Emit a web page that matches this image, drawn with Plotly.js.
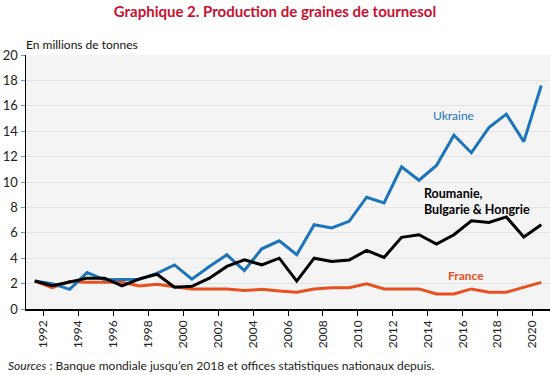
<!DOCTYPE html>
<html>
<head>
<meta charset="utf-8">
<script src="https://cdn.plot.ly/plotly-3.0.1.min.js"></script>
<style>html,body{margin:0;padding:0;background:#fff;}#chart{width:550px;height:375px;}</style>
</head>
<body>
<div id="chart"></div>
<script>
const years = [1992,1993,1994,1995,1996,1997,1998,1999,2000,2001,2002,2003,2004,2005,2006,2007,2008,2009,2010,2011,2012,2013,2014,2015,2016,2017,2018,2019,2020,2021];
const ukraine = [2.2,2.0,1.55,2.87,2.3,2.35,2.35,2.8,3.47,2.35,3.35,4.27,3.03,4.74,5.37,4.27,6.64,6.38,6.9,8.8,8.35,11.2,10.14,11.3,13.68,12.3,14.28,15.34,13.18,17.6];
const rbh = [2.2,1.84,2.13,2.43,2.43,1.82,2.37,2.74,1.71,1.79,2.43,3.35,3.87,3.48,4.0,2.2,4.0,3.74,3.85,4.61,4.06,5.64,5.85,5.11,5.85,6.95,6.82,7.25,5.67,6.64];
const france = [2.2,1.68,2.16,2.1,2.1,2.1,1.82,1.95,1.76,1.58,1.58,1.58,1.45,1.55,1.42,1.32,1.58,1.68,1.68,1.98,1.58,1.58,1.58,1.19,1.19,1.58,1.32,1.32,1.71,2.1];
const tickYears = [1992,1994,1996,1998,2000,2002,2004,2006,2008,2010,2012,2014,2016,2018,2020];
const yTicks = [0,2,4,6,8,10,12,14,16,18,20];

const font = "Lato, 'Open Sans', sans-serif";
const traces = [
  {x: years, y: france, mode: 'lines', line: {color: '#e8501e', width: 3}, name: 'France'},
  {x: years, y: ukraine, mode: 'lines', line: {color: '#1b75bb', width: 3}, name: 'Ukraine'},
  {x: years, y: rbh, mode: 'lines', line: {color: '#000000', width: 3}, name: 'RBH'}
];
const layout = {
  width: 550, height: 375,
  margin: {l: 26, r: 0, t: 55, b: 66},
  paper_bgcolor: '#ffffff',
  plot_bgcolor: '#f4f4f4',
  showlegend: false,
  font: {family: font, size: 12, color: '#222'},
  title: {text: '<b>Graphique 2. Production de graines de tournesol</b>', font: {family: font, size: 15, color: '#c8102e'}, x: 0.5, xanchor: 'center', yref: 'container', y: 0.968, yanchor: 'middle'},
  xaxis: {
    range: [1991.5, 2021.5], tickvals: tickYears.map(v => v + 0.5), ticktext: tickYears.map(String),
    tickangle: -90, ticks: 'outside', ticklen: 5, tickcolor: '#000', showgrid: false,
    showline: true, linecolor: '#000', linewidth: 1.5, zeroline: false,
    tickfont: {family: font, size: 12, color: '#222'}
  },
  yaxis: {
    range: [0, 20], tickvals: yTicks, ticks: 'outside', ticklen: 4, tickcolor: '#5b9bd5',
    showgrid: true, gridcolor: '#e4e4e4', gridwidth: 1, showline: true, linecolor: '#000', linewidth: 1.5,
    zeroline: false, tickfont: {family: font, size: 13, color: '#222'}
  },
  annotations: [
    {text: 'En millions de tonnes', xref: 'paper', yref: 'paper', x: -0.004, y: 1.043, xanchor: 'left', yanchor: 'middle', showarrow: false, font: {family: font, size: 12, color: '#111'}},
    {text: 'Ukraine', xref: 'x', yref: 'y', x: 2015.95, y: 15.25, showarrow: false, xanchor: 'center', yanchor: 'middle', font: {family: font, size: 12, color: '#1b75bb'}},
    {text: '<b>Roumanie,<br>Bulgarie &amp; Hongrie</b>', xref: 'x', yref: 'y', x: 2014.2, y: 8.46, showarrow: false, xanchor: 'left', yanchor: 'middle', align: 'left', font: {family: font, size: 12.5, color: '#000'}},
    {text: '<b>France</b>', xref: 'x', yref: 'y', x: 2016.7, y: 2.6, showarrow: false, xanchor: 'center', yanchor: 'middle', font: {family: font, size: 12, color: '#e8501e'}},
    {text: '<i>Sources</i> : Banque mondiale jusqu’en 2018 et offices statistiques nationaux depuis.', xref: 'paper', yref: 'paper', x: -0.038, y: -0.224, xanchor: 'left', yanchor: 'middle', showarrow: false, font: {family: font, size: 12, color: '#222'}}
  ]
};
Plotly.newPlot('chart', traces, layout, {displayModeBar: false, staticPlot: true});
</script>
</body>
</html>
